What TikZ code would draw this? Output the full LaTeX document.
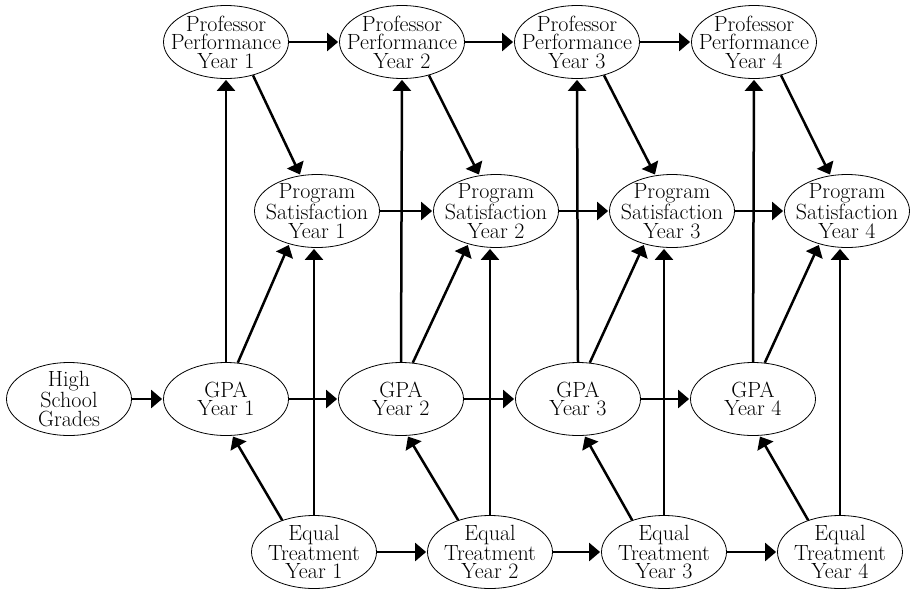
\documentclass[tikz,border=0pt]{standalone}
\usepackage{fontspec}
\usepackage{tikz}
\usetikzlibrary{shapes.geometric,arrows.meta}

\tikzset{
  var/.style={draw, ellipse, line width=0.8pt, minimum width=125pt, minimum height=73pt,
    inner xsep=-40pt, inner ysep=-20pt, align=center, font=\fontsize{22}{18.5}\selectfont},
  path/.style={line width=2.5pt, -{Triangle[length=11pt,width=18pt]}, shorten >=1pt}
}

\begin{document}
\begin{tikzpicture}[x=1pt,y=-1pt]
        \useasboundingbox (0,0) rectangle (911,590);

        \node[var](hs)at(69,399){High\\School\\Grades};

        \node[var](prof1)at(226,42){Professor\\Performance\\Year 1};
        \node[var](prof2)at(402,42){Professor\\Performance\\Year 2};
        \node[var](prof3)at(577,42){Professor\\Performance\\Year 3};
        \node[var](prof4)at(754,42){Professor\\Performance\\Year 4};

        \node[var](prog1)at(317,211){Program\\Satisfaction\\Year 1};
        \node[var](prog2)at(496,211){Program\\Satisfaction\\Year 2};
        \node[var](prog3)at(672,211){Program\\Satisfaction\\Year 3};
        \node[var](prog4)at(847,211){Program\\Satisfaction\\Year 4};

        \node[var](gpa1)at(226,399){GPA\\Year 1};
        \node[var](gpa2)at(401,399){GPA\\Year 2};
        \node[var](gpa3)at(578,399){GPA\\Year 3};
        \node[var](gpa4)at(753,399){GPA\\Year 4};

        \node[var](eq1)at(314,552){Equal\\Treatment\\Year 1};
        \node[var](eq2)at(490,552){Equal\\Treatment\\Year 2};
        \node[var](eq3)at(664,552){Equal\\Treatment\\Year 3};
        \node[var](eq4)at(840,552){Equal\\Treatment\\Year 4};

        % rows
        \draw[path](hs)--(gpa1);
        \draw[path](prof1)--(prof2);
        \draw[path](prof2)--(prof3);
        \draw[path](prof3)--(prof4);
        \draw[path](prog1)--(prog2);
        \draw[path](prog2)--(prog3);
        \draw[path](prog3)--(prog4);
        \draw[path](gpa1)--(gpa2);
        \draw[path](gpa2)--(gpa3);
        \draw[path](gpa3)--(gpa4);
        \draw[path](eq1)--(eq2);
        \draw[path](eq2)--(eq3);
        \draw[path](eq3)--(eq4);

        % GPA to professor
        \draw[path](gpa1.north)--(prof1.south);
        \draw[path](gpa2.north)--(prof2.south);
        \draw[path](gpa3.north)--(prof3.south);
        \draw[path](gpa4.north)--(prof4.south);

        % professor to program
        \draw[path](prof1.309)--(prog1.115);
        \draw[path](prof2.309)--(prog2.115);
        \draw[path](prof3.309)--(prog3.115);
        \draw[path](prof4.309)--(prog4.115);

        % GPA to program
        \draw[path](gpa1.72)--(prog1.230);
        \draw[path](gpa2.72)--(prog2.230);
        \draw[path](gpa3.72)--(prog3.230);
        \draw[path](gpa4.72)--(prog4.230);

        % equal treatment to GPA and program
        \draw[path](eq1.135)--(gpa1.280);
        \draw[path](eq2.135)--(gpa2.280);
        \draw[path](eq3.135)--(gpa3.280);
        \draw[path](eq4.135)--(gpa4.280);
        \draw[path](eq1.north)--(eq1.north|-prog1.south);
        \draw[path](eq2.north)--(eq2.north|-prog2.south);
        \draw[path](eq3.north)--(eq3.north|-prog3.south);
        \draw[path](eq4.north)--(eq4.north|-prog4.south);
    \end{tikzpicture}
\end{document}
